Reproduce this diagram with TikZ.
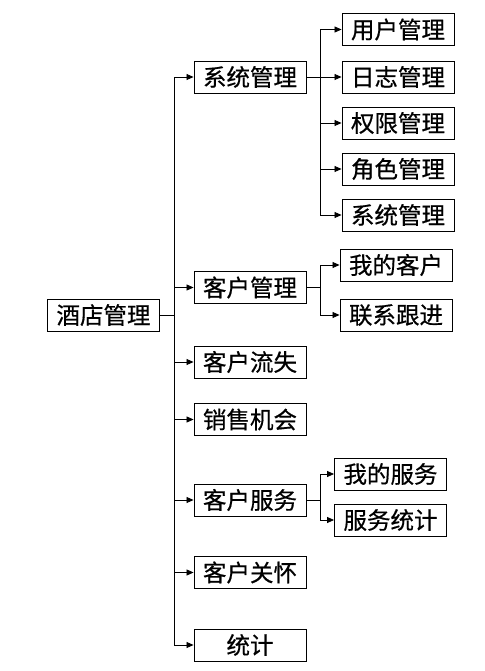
\documentclass[tikz,border=0pt]{standalone}
\usepackage{fontspec}
\newfontfamily\cjk[FakeBold=0.6]{Noto Sans CJK SC}
\usetikzlibrary{arrows.meta}

\tikzset{
  box/.style={draw, line width=0.9pt, minimum width=112pt, minimum height=32pt,
    inner sep=0pt, font=\cjk\fontsize{23.5}{25}\selectfont},
  link/.style={line width=0.8pt}
}

\begin{document}
\begin{tikzpicture}[x=1pt,y=-1pt,>={Triangle[length=7pt,width=6pt]}]
\useasboundingbox (0,0) rectangle (484,671);
% root and first level
\node[box] (hotel) at (103.5,315) {酒店管理};
\node[box] (sys) at (250,77) {系统管理};
\node[box] (cust) at (250,287.5) {客户管理};
\node[box] (loss) at (250,362) {客户流失};
\node[box] (sale) at (250,419.5) {销售机会};
\node[box] (serv) at (250,500) {客户服务};
\node[box] (care) at (250,572.5) {客户关怀};
\node[box] (stat) at (250,645) {统计};
% second level
\node[box] (user) at (398,29.5) {用户管理};
\node[box] (log) at (398,77) {日志管理};
\node[box] (perm) at (398,123) {权限管理};
\node[box] (role) at (398,169) {角色管理};
\node[box] (sys2) at (398,215) {系统管理};
\node[box] (mycust) at (396,265) {我的客户};
\node[box] (follow) at (396,315) {联系跟进};
\node[box] (myserv) at (390.5,474) {我的服务};
\node[box] (servstat) at (390.5,520) {服务统计};
% branch points
\coordinate (t0) at (174,315);
\coordinate (t1) at (320,77);
\coordinate (t2) at (320,287.5);
\coordinate (t3) at (320,500);
\draw[link] (hotel.east) -- (t0);
\draw[link] (sys.east) -- (t1);
\draw[link] (cust.east) -- (t2);
\draw[link] (serv.east) -- (t3);
\foreach \n in {sys,cust,loss,sale,serv,care,stat} {
\draw[link,->] (t0) |- (\n.west);
}
\foreach \n in {user,log,perm,role,sys2} {
\draw[link,->] (t1) |- (\n.west);
}
\foreach \n in {mycust,follow} {
\draw[link,->] (t2) |- (\n.west);
}
\foreach \n in {myserv,servstat} {
\draw[link,->] (t3) |- (\n.west);
}
\end{tikzpicture}
\end{document}
